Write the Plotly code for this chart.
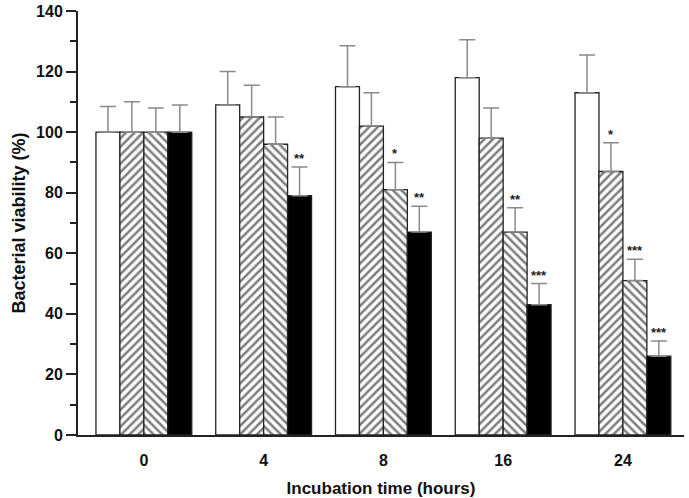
import plotly.graph_objects as go

categories = ["0", "4", "8", "16", "24"]
control = [100, 109, 115, 118, 113]
control_err = [8.5, 11, 13.5, 12.5, 12.5]
treat_a = [100, 105, 102, 98, 87]
treat_a_err = [10, 10.5, 11, 10, 9.5]
treat_b = [100, 96, 81, 67, 51]
treat_b_err = [8, 9, 9, 8, 7]
treat_c = [100, 79, 67, 43, 26]
treat_c_err = [9, 9.5, 8.5, 7, 5]

sig_a = ["", "", "", "", "*"]
sig_b = ["", "", "*", "**", "***"]
sig_c = ["", "**", "**", "***", "***"]

font_family = "Liberation Sans, Arial, sans-serif"
err_color = "#8a8a8a"

series = [
    (control, control_err, dict(color="white")),
    (treat_a, treat_a_err, dict(color="white", pattern=dict(shape="/", fgcolor="black", bgcolor="white", size=6, solidity=0.42))),
    (treat_b, treat_b_err, dict(color="white", pattern=dict(shape="\\", fgcolor="black", bgcolor="white", size=6, solidity=0.42))),
    (treat_c, treat_c_err, dict(color="black")),
]

fig = go.Figure()
for vals, errs, mk in series:
    marker = dict(mk)
    marker["line"] = dict(color="#222222", width=1.3)
    fig.add_trace(go.Bar(
        x=categories, y=vals,
        marker=marker,
        error_y=dict(type="data", array=errs, arrayminus=[0] * len(errs), symmetric=False,
                     color=err_color, thickness=1.5, width=8),
        showlegend=False,
    ))

n_series = 4
bar_w = (1 - 0.2) / n_series
annotations = []
for s_idx, (vals, errs, sig) in enumerate([(treat_a, treat_a_err, sig_a), (treat_b, treat_b_err, sig_b), (treat_c, treat_c_err, sig_c)], start=1):
    offset = -0.4 + bar_w * (s_idx + 0.5)
    for i, txt in enumerate(sig):
        if txt:
            annotations.append(dict(
                x=i + offset, y=vals[i] + errs[i], text="<b>" + txt + "</b>", showarrow=False,
                xref="x", yref="y", yanchor="bottom", yshift=-1,
                font=dict(family=font_family, size=13, color="#222222"),
            ))

fig.update_layout(
    width=689, height=498,
    margin=dict(l=78, r=5, t=11, b=63),
    paper_bgcolor="white", plot_bgcolor="white",
    barmode="group", bargap=0.2, bargroupgap=0,
    annotations=annotations,
    font=dict(family=font_family, color="#111111"),
    xaxis=dict(
        type="category", range=[-0.55, 4.51], automargin=False,
        showline=True, linecolor="#222222", linewidth=2,
        ticks="outside", ticklen=10, tickcolor="rgba(0,0,0,0)",
        tickfont=dict(family=font_family, size=16, color="#111111", weight="bold"),
        title=dict(text="<b>Incubation time (hours)</b>", font=dict(family=font_family, size=17, color="#111111"), standoff=15),
        showgrid=False, zeroline=False,
    ),
    yaxis=dict(
        range=[0, 140], tickvals=[0, 20, 40, 60, 80, 100, 120, 140], automargin=False,
        showline=True, linecolor="#222222", linewidth=2,
        ticks="outside", ticklen=10, tickwidth=2, tickcolor="#222222",
        minor=dict(ticks="outside", ticklen=6, tickwidth=2, tickcolor="#222222", dtick=10, tick0=0),
        tickfont=dict(family=font_family, size=16, color="#111111", weight="bold"),
        title=dict(text="<b>Bacterial viability (%)</b>", font=dict(family=font_family, size=18, color="#111111"), standoff=6),
        showgrid=False, zeroline=False,
    ),
)

fig.write_html("out.html")
